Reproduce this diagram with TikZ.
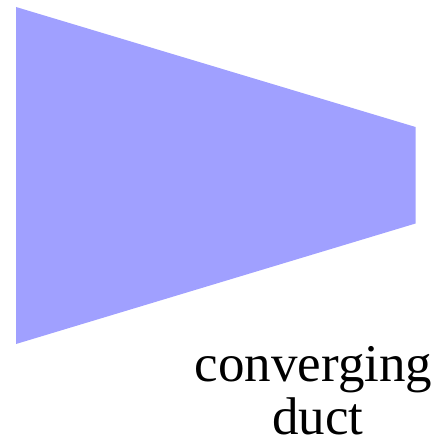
\documentclass[tikz,border=0pt]{standalone}
\usepackage{fontspec}
\setmainfont{Liberation Serif}
\definecolor{ductblue}{RGB}{160,160,255}
\begin{document}
\begin{tikzpicture}[x=1pt,y=-1pt,
  lbl/.style={anchor=base,inner sep=0pt,font=\fontsize{53}{56}\selectfont}]
\useasboundingbox (0,0) rectangle (441,441);
\fill[ductblue] (16,7) -- (415.5,127) -- (415.5,223.5) -- (16,344) -- cycle;
\node[lbl] (l1) at (313.5,381) {converging};
\node[lbl] (l2) at (318,434.5) {duct};
\end{tikzpicture}
\end{document}
